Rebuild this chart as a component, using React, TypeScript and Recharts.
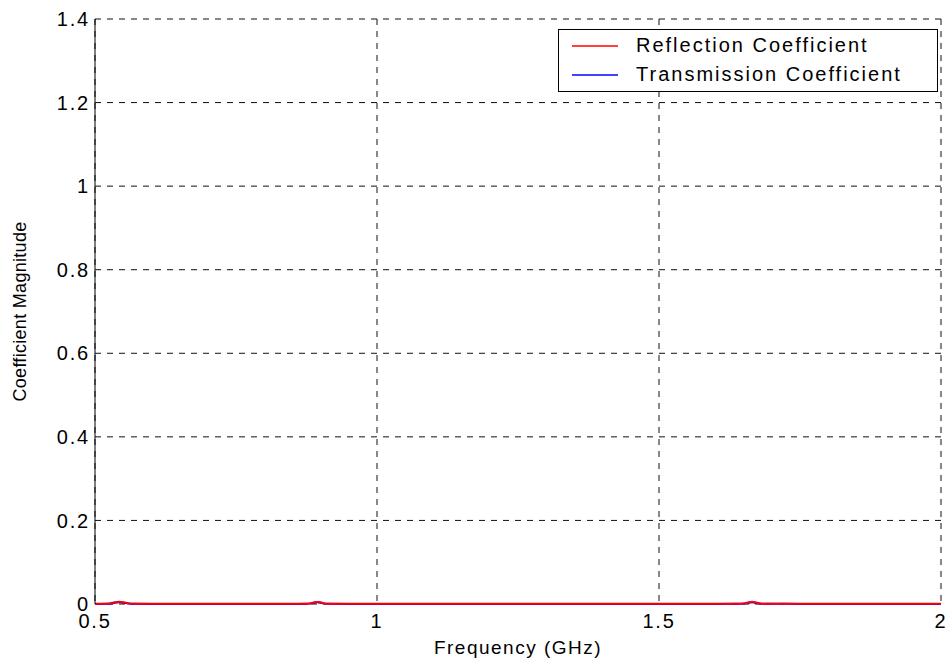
import React from 'react';
import { LineChart, Line, XAxis, YAxis, CartesianGrid, Label } from 'recharts';

const frequency = [
  0.5, 0.51, 0.52, 0.527, 0.535, 0.543, 0.551, 0.559, 0.57, 0.6, 0.7, 0.8, 0.86, 0.875, 0.883, 0.889, 0.894,
  0.9, 0.905, 0.915, 0.95, 1.0, 1.2, 1.4, 1.6, 1.64, 1.652, 1.659, 1.665, 1.671, 1.678, 1.69, 1.75, 1.85, 2.0,
];
const reflection = [
  0.0004, 0.0004, 0.0005, 0.0015, 0.004, 0.0055, 0.004, 0.0015, 0.0005, 0.0004, 0.0004, 0.0004, 0.0004, 0.0006,
  0.002, 0.004, 0.005, 0.004, 0.002, 0.0006, 0.0004, 0.0004, 0.0004, 0.0004, 0.0004, 0.0005, 0.0015, 0.004,
  0.0055, 0.004, 0.0015, 0.0005, 0.0004, 0.0004, 0.0004,
];
const transmission = [
  0.0003, 0.0003, 0.0004, 0.001, 0.003, 0.004, 0.003, 0.001, 0.0004, 0.0003, 0.0003, 0.0003, 0.0003, 0.0005,
  0.0015, 0.003, 0.004, 0.003, 0.0015, 0.0005, 0.0003, 0.0003, 0.0003, 0.0003, 0.0003, 0.0004, 0.001, 0.003,
  0.004, 0.003, 0.001, 0.0004, 0.0003, 0.0003, 0.0003,
];
const xTicks = [0.5, 1, 1.5, 2];
const yTicks = [0, 0.2, 0.4, 0.6, 0.8, 1, 1.2, 1.4];

const data = frequency.map((f, i) => ({ f, r: reflection[i], t: transmission[i] }));

const font = '"Liberation Sans", Arial, sans-serif';
const tickStyle = { fontSize: 20, fill: '#000', fontFamily: font, letterSpacing: 1.8 };

const legendItems = [
  { name: 'Reflection Coefficient', color: '#ff0000' },
  { name: 'Transmission Coefficient', color: '#0000ff' },
];

// drawn over the chart, top right of the plot like the MATLAB legend
const LegendBox = () => (
  <div
    style={{
      position: 'absolute',
      left: 558,
      top: 29,
      width: 380,
      height: 63,
      border: '1px solid #000',
      background: '#fff',
      fontFamily: font,
      fontSize: 20,
      letterSpacing: 2,
      boxSizing: 'border-box',
      paddingTop: 1,
    }}
  >
    {legendItems.map((it) => (
      <div key={it.name} style={{ display: 'flex', alignItems: 'center', height: 29 }}>
        <svg width={46} height={4} style={{ marginLeft: 13, marginRight: 18 }}>
          <line x1={0} y1={2} x2={46} y2={2} stroke={it.color} strokeWidth={1.5} />
        </svg>
        <span style={{ color: '#000', lineHeight: '29px' }}>{it.name}</span>
      </div>
    ))}
  </div>
);

export default function App() {
  return (
    <div style={{ position: 'absolute', left: 0, top: 0, width: 948, height: 668, background: '#fff' }}>
      <LineChart width={948} height={668} data={data} margin={{ top: 19, right: 7, left: 35, bottom: 34 }}>
        <CartesianGrid stroke="#111" strokeDasharray="6 6" vertical horizontal />
        <XAxis
          dataKey="f"
          type="number"
          domain={[0.5, 2]}
          ticks={xTicks}
          axisLine={false}
          tickLine={false}
          tickSize={0}
          tickMargin={10}
          height={30}
          tick={tickStyle}
        >
          <Label
            value="Frequency (GHz)"
            position="bottom"
            offset={7}
            style={{ fontSize: 19, fill: '#000', fontFamily: font, letterSpacing: 1.5 }}
          />
        </XAxis>
        <XAxis xAxisId="top" orientation="top" type="number" domain={[0.5, 2]} tick={false} tickLine={false} height={0} stroke="#000" />
        <YAxis
          type="number"
          domain={[0, 1.4]}
          ticks={yTicks}
          stroke="#000"
          tickLine={false}
          tickSize={0}
          tickMargin={5}
          width={60}
          tick={tickStyle}
        >
          <Label
            value="Coefficient Magnitude"
            angle={-90}
            position="insideLeft"
            offset={-15}
            style={{ textAnchor: 'middle', fontSize: 18, fill: '#000', fontFamily: font, letterSpacing: 0.3 }}
          />
        </YAxis>
        <YAxis yAxisId="right" orientation="right" tick={false} tickLine={false} width={0} stroke="#000" />
        <Line dataKey="t" stroke="#0000ff" strokeWidth={2} dot={false} isAnimationActive={false} type="monotone" />
        <Line dataKey="r" stroke="#ff0000" strokeWidth={2} dot={false} isAnimationActive={false} type="monotone" />
      </LineChart>
      <LegendBox />
    </div>
  );
}
